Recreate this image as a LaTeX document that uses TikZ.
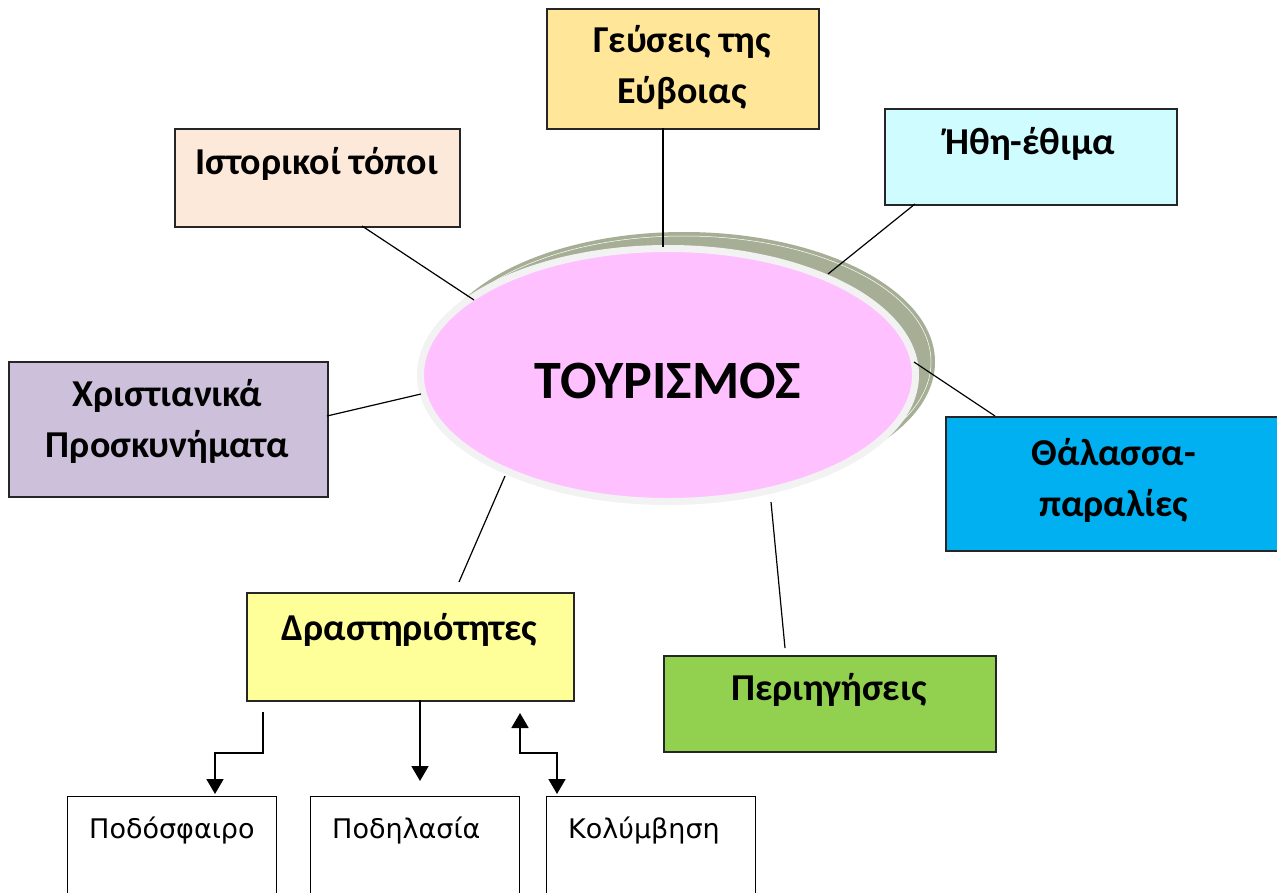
\documentclass[tikz,border=0pt]{standalone}
\usepackage{fontspec}
\setmainfont{Carlito}
\newfontfamily\dejavu{DejaVu Sans}
\usetikzlibrary{arrows.meta,shapes.geometric}
\definecolor{cpink}{HTML}{FFC0FF}
\definecolor{cring}{HTML}{F2F2F2}
\definecolor{cshadow}{HTML}{A6AF95}
\definecolor{chist}{HTML}{FDE9D9}
\definecolor{cgeus}{HTML}{FFE699}
\definecolor{cithi}{HTML}{CFFCFF}
\definecolor{cxrist}{HTML}{CCC0DA}
\definecolor{cthal}{HTML}{00B0F0}
\definecolor{cdrast}{HTML}{FFFF99}
\definecolor{cperi}{HTML}{92D050}
\begin{document}
\begin{tikzpicture}[x=1pt,y=-1pt,
  box/.style={draw=black!85,line width=1.6pt,anchor=north west,inner sep=0pt},
  subbox/.style={draw=black,line width=1.3pt,anchor=north west,inner sep=0pt,minimum width=209pt,minimum height=110pt},
  lbl/.style={font=\fontsize{38}{51}\selectfont\bfseries,align=center,anchor=base,inner sep=0pt},
  sublbl/.style={font=\dejavu\fontsize{27}{32}\selectfont,anchor=base west,inner sep=0pt},
  conn/.style={line width=1.2pt,black},
  arr/.style={line width=1.8pt,black,-{Triangle[width=17pt,length=15pt]}},
  darr/.style={line width=1.8pt,black,{Triangle[width=17pt,length=15pt]}-{Triangle[width=17pt,length=15pt]}}]
\useasboundingbox (0,0) rectangle (1277,893);
\clip (0,0) rectangle (1277,893);
\fill[white] (0,0) rectangle (1277,893);

% boxes
\node[box,fill=chist,minimum width=285pt,minimum height=98pt] (hist) at (174,128) {};
\node[box,fill=cgeus,minimum width=272pt,minimum height=120pt] (geus) at (546,8) {};
\node[box,fill=cithi,minimum width=292pt,minimum height=96pt] (ithi) at (884,108) {};
\node[box,fill=cxrist,minimum width=319pt,minimum height=135pt] (xrist) at (8,361) {};
\node[box,fill=cthal,minimum width=340pt,minimum height=134pt] (thal) at (945,416) {};
\node[box,fill=cdrast,minimum width=327pt,minimum height=108pt] (drast) at (246,592) {};
\node[box,fill=cperi,minimum width=332pt,minimum height=96pt] (peri) at (663,655) {};

\node[lbl] (hist-t) at (316.5,175) {Ιστορικοί τόποι};
\node[lbl] (geus-t) at (682,104) {Γεύσεις της\\Εύβοιας};
\node[lbl] (ithi-t) at (1030,155) {Ήθη-έθιμα};
\node[lbl] (xrist-t) at (167.5,457) {Χριστιανικά\\Προσκυνήματα};
\node[lbl] (thal-t) at (1114,516) {Θάλασσα-\\παραλίες};
\node[lbl] (drast-t) at (409.5,640) {Δραστηριότητες};
\node[lbl] (peri-t) at (829,700) {Περιηγήσεις};

% central ellipse
\fill[cshadow] (684,362) ellipse [x radius=251, y radius=130];
\draw[white,line width=0.5pt] (684,362) ellipse [x radius=247, y radius=126];
\node[ellipse,fill=cpink,draw=cring,line width=7pt,minimum width=495pt,minimum height=253pt,inner sep=0pt] (tour) at (668,375) {};
\node[font=\fontsize{54}{60}\selectfont\bfseries,anchor=base,inner sep=0pt] (tour-t) at (668,398) {ΤΟΥΡΙΣΜΟΣ};

% connectors
\coordinate (h1) at (362,226); \coordinate (h2) at (474,300);
\coordinate (g1) at (663,128); \coordinate (g2) at (663,247);
\coordinate (i1) at (915,204); \coordinate (i2) at (828,274);
\coordinate (x1) at (327,416); \coordinate (x2) at (421,394);
\coordinate (t1) at (995,416); \coordinate (t2) at (914,362);
\coordinate (d1) at (459,582); \coordinate (d2) at (505,476);
\coordinate (p1) at (785,648); \coordinate (p2) at (771,502);
\draw[conn] (h1) -- (h2);
\draw[conn] (g1) -- (g2);
\draw[conn] (i1) -- (i2);
\draw[conn] (x1) -- (x2);
\draw[conn] (t1) -- (t2);
\draw[conn] (d1) -- (d2);
\draw[conn] (p1) -- (p2);

% sub boxes
\node[subbox] (pod) at (67,796) {};
\node[subbox] (podi) at (310,796) {};
\node[subbox] (kol) at (546,796) {};
\node[sublbl] (pod-t) at (89,838) {Ποδόσφαιρο};
\node[sublbl] (podi-t) at (332,838) {Ποδηλασία};
\node[sublbl] (kol-t) at (568,838) {Κολύμβηση};

% arrows
\coordinate (a1) at (263,712);
\coordinate (a2) at (215,794);
\coordinate (b1) at (420,700);
\coordinate (b2) at (420,781);
\coordinate (c1) at (520,713);
\coordinate (c2) at (557,794);
\draw[arr] (a1) |- (239,753) -| (a2);
\draw[arr] (b1) -- (b2);
\draw[darr] (c1) |- (540,753) -| (c2);
\end{tikzpicture}
\end{document}
